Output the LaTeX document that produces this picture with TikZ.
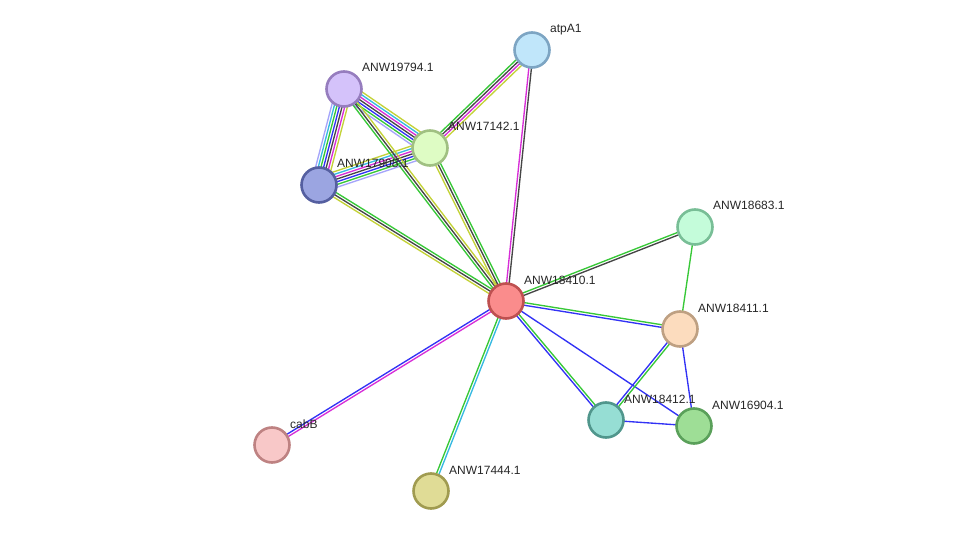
\documentclass[tikz,border=0pt]{standalone}
\usepackage{fontspec}
\newfontfamily\lblfont{Liberation Sans}
\usetikzlibrary{calc,backgrounds}
\definecolor{egreen}{RGB}{55,200,55}
\definecolor{eblue}{RGB}{50,50,245}
\definecolor{emag}{RGB}{215,45,215}
\definecolor{eblack}{RGB}{70,70,70}
\definecolor{eyel}{RGB}{195,210,55}
\definecolor{ecyan}{RGB}{55,185,225}
\definecolor{elav}{RGB}{165,165,250}
\tikzset{
  ew/.style={line width=1.35pt},
  prot/.style={circle, minimum size=35pt, inner sep=0pt, line width=2.6pt},
  lbl/.style={font=\lblfont\fontsize{12}{14}\selectfont, anchor=base west, inner sep=0pt, text=black!85}
}
\newcommand\medge[3]{%
  \gdef\edgecount{0}%
  \foreach \c in {#3}{\xdef\edgecount{\the\numexpr\edgecount+1\relax}}%
  \foreach \c [count=\i] in {#3}{%
    \pgfmathsetmacro\off{(\i-(\edgecount+1)/2)*2.6}%
    \draw[\c, ew] ($(#1.center)!\off pt!90:(#2.center)$) -- ($(#2.center)!\off pt!-90:(#1.center)$);
  }}
\begin{document}
\begin{tikzpicture}[x=1pt,y=-1pt]
\useasboundingbox (0,0) rectangle (976,537);
% nodes
\node[prot, fill={rgb,255:red,192;green,230;blue,250}, draw={rgb,255:red,125;green,165;blue,195}] (atp) at (532,50) {};
\node[prot, fill={rgb,255:red,212;green,194;blue,250}, draw={rgb,255:red,150;green,125;blue,190}] (n19794) at (344,89) {};
\node[prot, fill={rgb,255:red,222;green,252;blue,196}, draw={rgb,255:red,160;green,192;blue,130}] (n17142) at (430,148) {};
\node[prot, fill={rgb,255:red,155;green,165;blue,225}, draw={rgb,255:red,85;green,95;blue,160}] (n17908) at (319,185) {};
\node[prot, fill={rgb,255:red,196;green,252;blue,218}, draw={rgb,255:red,120;green,190;blue,150}] (n18683) at (695,227) {};
\node[prot, fill={rgb,255:red,250;green,140;blue,140}, draw={rgb,255:red,190;green,80;blue,80}] (n18410) at (506,301) {};
\node[prot, fill={rgb,255:red,252;green,220;blue,190}, draw={rgb,255:red,190;green,160;blue,130}] (n18411) at (680,329) {};
\node[prot, fill={rgb,255:red,150;green,222;blue,212}, draw={rgb,255:red,80;green,150;blue,140}] (n18412) at (606,420) {};
\node[prot, fill={rgb,255:red,158;green,222;blue,150}, draw={rgb,255:red,90;green,160;blue,90}] (n16904) at (694,426) {};
\node[prot, fill={rgb,255:red,248;green,200;blue,200}, draw={rgb,255:red,190;green,130;blue,130}] (cabb) at (272,445) {};
\node[prot, fill={rgb,255:red,224;green,220;blue,150}, draw={rgb,255:red,160;green,155;blue,80}] (n17444) at (431,491) {};
% labels
\node[lbl] (latp) at ($(atp.center)+(18,-17)$) {atpA1};
\node[lbl] (l19794) at ($(n19794.center)+(18,-17)$) {ANW19794.1};
\node[lbl] (l17142) at ($(n17142.center)+(18,-17)$) {ANW17142.1};
\node[lbl] (l17908) at ($(n17908.center)+(18,-17)$) {ANW17908.1};
\node[lbl] (l18683) at ($(n18683.center)+(18,-17)$) {ANW18683.1};
\node[lbl] (l18410) at ($(n18410.center)+(18,-17)$) {ANW18410.1};
\node[lbl] (l18411) at ($(n18411.center)+(18,-17)$) {ANW18411.1};
\node[lbl] (l18412) at ($(n18412.center)+(18,-17)$) {ANW18412.1};
\node[lbl] (l16904) at ($(n16904.center)+(18,-17)$) {ANW16904.1};
\node[lbl] (lcabb) at ($(cabb.center)+(18,-17)$) {cabB};
\node[lbl] (l17444) at ($(n17444.center)+(18,-17)$) {ANW17444.1};
% edges
\begin{scope}[on background layer]
\medge{n18410}{atp}{eblack,emag}
\medge{n17142}{atp}{eyel,emag,eblack,egreen}
\medge{n19794}{n17142}{elav,egreen,eblue,eblack,emag,ecyan,eyel}
\medge{n19794}{n17908}{elav,ecyan,egreen,eblue,eblack,emag,eyel}
\medge{n17908}{n17142}{elav,egreen,eblue,eblack,emag,ecyan,eyel}
\medge{n19794}{n18410}{egreen,eblack,eyel}
\medge{n17142}{n18410}{eyel,eblack,egreen}
\medge{n17908}{n18410}{eyel,eblack,egreen}
\medge{n18410}{n18683}{eblack,egreen}
\medge{n18410}{n18411}{eblue,egreen}
\medge{n18410}{n18412}{eblue,egreen}
\medge{n18410}{n16904}{eblue}
\medge{n18410}{cabb}{eblue,emag}
\medge{n18410}{n17444}{egreen,ecyan}
\medge{n18683}{n18411}{egreen}
\medge{n18411}{n18412}{eblue,egreen}
\medge{n18411}{n16904}{eblue}
\medge{n18412}{n16904}{eblue}
\end{scope}
\end{tikzpicture}
\end{document}
